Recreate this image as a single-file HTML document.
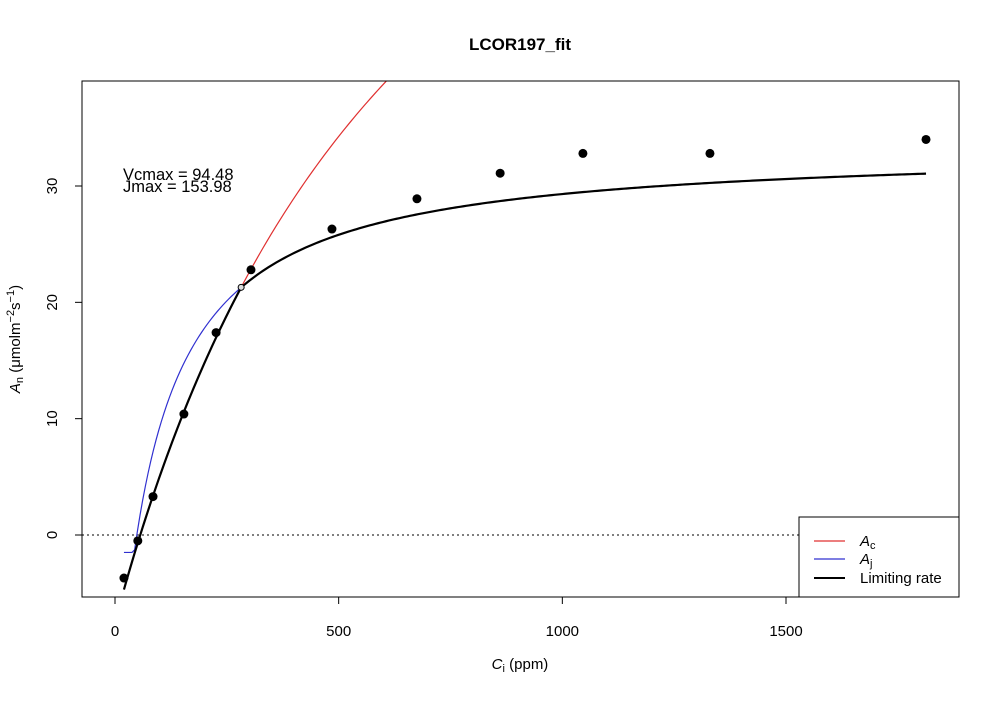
<!DOCTYPE html>
<html><head><meta charset="utf-8"><style>
html,body{margin:0;padding:0;background:#fff;}
svg text{font-family:"Liberation Sans",Arial,sans-serif;}
</style></head><body>
<svg id="chart" width="1000" height="700" viewBox="0 0 1000 700" xmlns="http://www.w3.org/2000/svg">
<rect x="0" y="0" width="1000" height="700" fill="#fff"/>
<text x="520" y="50" text-anchor="middle" font-size="17" font-weight="bold">LCOR197_fit</text>
<g id="plot"></g>
<rect x="82" y="81" width="877" height="516" fill="none" stroke="#000" stroke-width="1"/>
<text x="123" y="180" font-size="16.5">Vcmax = 94.48</text>
<text x="123" y="192" font-size="16.5">Jmax = 153.98</text>
<text x="520" y="669" text-anchor="middle" font-size="15"><tspan font-style="italic">C</tspan><tspan font-size="11" dy="3">i</tspan><tspan dy="-3"> (ppm)</tspan></text>
<text transform="translate(20,339) rotate(-90)" text-anchor="middle" font-size="15"><tspan font-style="italic">A</tspan><tspan font-size="11" dy="3">n</tspan><tspan dy="-3"> (μmolm</tspan><tspan font-size="11" dy="-6">−2</tspan><tspan dy="6">s</tspan><tspan font-size="11" dy="-6">−1</tspan><tspan dy="6">)</tspan></text>
<g>
<rect x="799" y="517" width="160" height="80" fill="#fff" stroke="#000"/>
<line x1="814" y1="541" x2="845" y2="541" stroke="#e03030" stroke-width="1.2"/>
<text x="860" y="546" font-size="15"><tspan font-style="italic">A</tspan><tspan font-size="11" dy="3">c</tspan></text>
<line x1="814" y1="559" x2="845" y2="559" stroke="#3030d0" stroke-width="1.2"/>
<text x="860" y="564" font-size="15"><tspan font-style="italic">A</tspan><tspan font-size="11" dy="3">j</tspan></text>
<line x1="814" y1="578" x2="845" y2="578" stroke="#000" stroke-width="2"/>
<text x="860" y="583" font-size="15">Limiting rate</text>
</g>
</svg>
<script>
const ciValues = [20, 51, 85, 154, 226, 304, 485, 675, 861, 1046, 1330, 1813];
const anValues = [-3.7, -0.5, 3.3, 10.4, 17.4, 22.8, 26.3, 28.9, 31.1, 32.8, 32.8, 34.0];
const xTicks = [0, 500, 1000, 1500];
const yTicks = [0, 10, 20, 30];
const vcmax = 94.48;
const jRate = 140.8;
const gammaStar = 42;
const km = 700;
const rd = 1.8;
const ciMin = 20, ciMax = 1813;

const NS = "http://www.w3.org/2000/svg";
const plot = document.getElementById('plot');
const X = v => 115 + (v - 0) * (786 - 115) / 1500;
const Y = v => 535 - v * (535 - 186) / 30;
function mk(tag, attrs) { const e = document.createElementNS(NS, tag); for (const k in attrs) e.setAttribute(k, attrs[k]); return e; }

const defs = mk('defs', {});
const cp = mk('clipPath', {id: 'clip'});
cp.appendChild(mk('rect', {x: 82, y: 81, width: 877, height: 516}));
defs.appendChild(cp); plot.appendChild(defs);

xTicks.forEach(t => {
  const l = mk('line', {x1: X(t), x2: X(t), y1: 597, y2: 604, stroke: '#000'});
  
  
  plot.appendChild(l);
  const tx = mk('text', {x: X(t), y: 636, 'text-anchor': 'middle', 'font-size': 15});
  tx.textContent = t;
  
  
  plot.appendChild(tx);
});
const xa = mk('line', {x1: X(0), x2: X(1500), y1: 597, y2: 597, stroke: '#000'});
plot.appendChild(xa);
yTicks.forEach(t => {
  const l = mk('line', {x1: 75, x2: 82, y1: Y(t), y2: Y(t), stroke: '#000'});
  
  
  plot.appendChild(l);
  const tx = mk('text', {x: 0, y: 0, 'text-anchor': 'middle', 'font-size': 15, transform: `translate(57,${Y(t)}) rotate(-90)`});
  tx.textContent = t;
  
  
  plot.appendChild(tx);
});

const z = mk('line', {x1: 82, x2: 959, y1: Y(0), y2: Y(0), stroke: '#000', 'stroke-dasharray': '2,3'});


plot.appendChild(z);

const ac = c => vcmax * (c - gammaStar) / (c + km) - rd;
const aj = c => Math.max(jRate / 4 * (c - gammaStar) / (c + 2 * gammaStar) - rd, -1.5);
function path(f, a, b, name, color, w) {
  let d = '';
  for (let i = 0; i <= 300; i++) { const c = a + (b - a) * i / 300; d += (i ? 'L' : 'M') + X(c).toFixed(2) + ',' + Y(f(c)).toFixed(2); }
  const p = mk('path', {d, fill: 'none', stroke: color, 'stroke-width': w, 'clip-path': 'url(#clip)'});
  
  
  plot.appendChild(p);
}
path(ac, ciMin, ciMax, 'ac-curve', '#e03030', 1.2);
path(aj, ciMin, ciMax, 'aj-curve', '#3030d0', 1.2);
path(c => Math.min(ac(c), aj(c) < -1 ? ac(c) : aj(c)), ciMin, ciMax, 'limiting-rate-curve', '#000', 2.2);

let best = ciMin, bd = 1e9;
for (let c = 100; c < 800; c += 0.5) { const d = Math.abs(ac(c) - aj(c)); if (d < bd) { bd = d; best = c; } }
const tp = mk('circle', {cx: X(best), cy: Y(ac(best)), r: 3, fill: '#ddd', stroke: '#000'});


plot.appendChild(tp);

ciValues.forEach((c, i) => {
  const pt = mk('circle', {cx: X(c), cy: Y(anValues[i]), r: 4.5, fill: '#000'});
  
  
  plot.appendChild(pt);
});
</script>
</body></html>
